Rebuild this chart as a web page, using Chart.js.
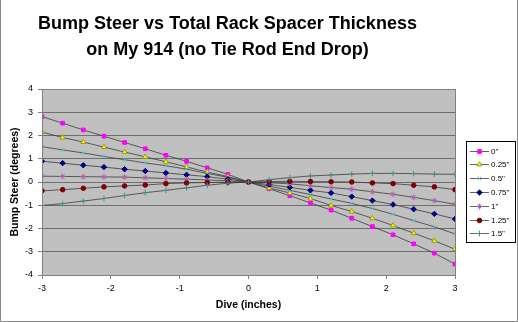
<!DOCTYPE html>
<html>
<head>
<meta charset="utf-8">
<script src="https://cdn.jsdelivr.net/npm/chart.js@4/dist/chart.umd.min.js"></script>
<style>
  html, body { margin: 0; padding: 0; background: #fff; }
  #wrap { width: 518px; height: 322px; position: relative; }
</style>
</head>
<body>
<div id="wrap"><canvas id="bump"></canvas></div>
<script>
// dive positions (inches)
const xs = [-3, -2.7, -2.4, -2.1, -1.8, -1.5, -1.2, -0.9, -0.6, -0.3, 0, 0.3, 0.6, 0.9, 1.2, 1.5, 1.8, 2.1, 2.4, 2.7, 3];

// bump steer (degrees) per total rack spacer thickness
const spacer0   = [2.81, 2.53, 2.24, 1.97, 1.70, 1.43, 1.15, 0.89, 0.61, 0.33, 0, -0.29, -0.59, -0.90, -1.21, -1.56, -1.92, -2.27, -2.66, -3.06, -3.53];
const spacer025 = [2.15, 1.91, 1.72, 1.50, 1.29, 1.08, 0.87, 0.65, 0.43, 0.23, 0, -0.26, -0.47, -0.71, -1.01, -1.27, -1.56, -1.87, -2.20, -2.53, -2.89];
const spacer05  = [1.52, 1.38, 1.25, 1.10, 0.96, 0.82, 0.70, 0.55, 0.37, 0.20, 0, -0.18, -0.36, -0.54, -0.73, -0.92, -1.14, -1.39, -1.66, -1.93, -2.23];
const spacer075 = [0.89, 0.81, 0.72, 0.64, 0.55, 0.47, 0.39, 0.31, 0.23, 0.12, 0, -0.11, -0.23, -0.36, -0.47, -0.63, -0.80, -0.97, -1.17, -1.37, -1.59];
const spacer1   = [0.25, 0.24, 0.23, 0.22, 0.21, 0.18, 0.15, 0.12, 0.09, 0.05, 0, -0.03, -0.08, -0.16, -0.24, -0.31, -0.42, -0.53, -0.66, -0.80, -0.96];
const spacer125 = [-0.38, -0.33, -0.27, -0.21, -0.17, -0.13, -0.07, -0.04, -0.02, -0.01, 0, 0.02, 0.03, 0.02, 0.01, 0.00, -0.04, -0.07, -0.14, -0.21, -0.33];
const spacer15  = [-1.01, -0.93, -0.82, -0.71, -0.58, -0.46, -0.36, -0.25, -0.14, -0.05, 0, 0.10, 0.19, 0.26, 0.30, 0.34, 0.37, 0.37, 0.36, 0.34, 0.33];

const seriesLabels = ['0"', '0.25"', '0.5"', '0.75"', '1"', '1.25"', '1.5"'];
const seriesValues = [spacer0, spacer025, spacer05, spacer075, spacer1, spacer125, spacer15];

const titleLines = ['Bump Steer vs Total Rack Spacer Thickness', 'on My 914 (no Tie Rod End Drop)'];

// Excel-like marker styles
const markers = [
  { style: 'rect',     radius: 2.6, fill: '#ff00ff', stroke: '#ff00ff' },
  { style: 'triangle', radius: 2.9, fill: '#ffff00', stroke: '#a0a000' },
  { style: 'crossRot', radius: 2.3, fill: '#40c8c8', stroke: '#40c8c8' },
  { style: 'rectRot',  radius: 2.7, fill: '#000080', stroke: '#000080' },
  { style: 'star',     radius: 2.8, fill: '#b060b0', stroke: '#b060b0' },
  { style: 'circle',   radius: 2.3, fill: '#800000', stroke: '#800000' },
  { style: 'cross',    radius: 2.8, fill: '#3f8f8f', stroke: '#3f8f8f' }
];

const FONT = "'Liberation Sans', Arial, Helvetica, sans-serif";
const LINE_COLOR = '#3c3c3c';

const datasets = seriesValues.map((vals, i) => ({
  label: seriesLabels[i],
  data: xs.map((x, j) => ({ x: x, y: vals[j] })),
  showLine: true,
  borderColor: LINE_COLOR,
  borderWidth: 0.8,
  pointStyle: markers[i].style,
  pointRadius: markers[i].radius,
  pointBackgroundColor: markers[i].fill,
  pointBorderColor: markers[i].stroke,
  pointBorderWidth: 1,
  order: 7 - i
}));

// gray plot area + border
const plotBg = {
  id: 'plotBg',
  beforeDraw(chart) {
    const { ctx, chartArea: a } = chart;
    ctx.save();
    ctx.fillStyle = '#c0c0c0';
    ctx.fillRect(a.left, a.top, a.right - a.left, a.bottom - a.top);
    ctx.restore();
  },
  afterDatasetsDraw(chart) {
    const { ctx, chartArea: a } = chart;
    ctx.save();
    ctx.strokeStyle = '#808080';
    ctx.lineWidth = 1;
    ctx.strokeRect(Math.round(a.left) + 0.5, Math.round(a.top) + 0.5, Math.round(a.right - a.left), Math.round(a.bottom - a.top));
    ctx.restore();
  }
};

// legend box on the right, like Excel
const boxLegend = {
  id: 'boxLegend',
  afterDraw(chart) {
    const ctx = chart.ctx;
    const lx = 466, ly = 141, lw = 49, lh = 101;
    ctx.save();
    ctx.fillStyle = '#fff';
    ctx.fillRect(lx, ly, lw, lh);
    ctx.strokeStyle = '#000';
    ctx.lineWidth = 1;
    ctx.strokeRect(lx + 0.5, ly + 0.5, lw, lh);
    ctx.font = '8px ' + FONT;
    ctx.textBaseline = 'middle';
    ctx.textAlign = 'left';
    seriesLabels.forEach((lab, i) => {
      const y = Math.round(ly + 9.5 + i * 13.8) + 0.5;
      ctx.strokeStyle = LINE_COLOR;
      ctx.lineWidth = 0.8;
      ctx.beginPath();
      ctx.moveTo(470, y);
      ctx.lineTo(489, y);
      ctx.stroke();
      const m = markers[i];
      ctx.fillStyle = m.fill;
      ctx.strokeStyle = m.stroke;
      ctx.lineWidth = 1;
      Chart.helpers.drawPoint(ctx, { pointStyle: m.style, radius: m.radius, borderWidth: 1 }, 479.5, y);
      ctx.fillStyle = '#000';
      ctx.fillText(lab, 491, y);
    });
    // outer chart border
    ctx.strokeStyle = '#8a8a8a';
    ctx.lineWidth = 1;
    ctx.beginPath();
    ctx.moveTo(0.5, 0);
    ctx.lineTo(0.5, 321.5);
    ctx.lineTo(517.5, 321.5);
    ctx.lineTo(517.5, 0);
    ctx.stroke();
    ctx.restore();
  }
};

new Chart(document.getElementById('bump'), {
  type: 'scatter',
  data: { datasets },
  options: {
    responsive: true,
    maintainAspectRatio: false,
    animation: false,
    layout: { padding: { left: 0, right: 63, top: 0, bottom: 0 } },
    plugins: {
      legend: { display: false },
      tooltip: { enabled: false },
      title: {
        display: true,
        text: titleLines,
        color: '#000',
        font: { family: FONT, size: 18, weight: 'bold', lineHeight: 26 / 18 },
        padding: { top: 11, bottom: 26 }
      }
    },
    scales: {
      x: {
        type: 'linear',
        min: -3,
        max: 3,
        afterFit(scale) { scale.height = 47; },
        ticks: { stepSize: 1, color: '#000', font: { family: FONT, size: 9 }, padding: 4, maxRotation: 0 },
        grid: { drawOnChartArea: false, drawTicks: true, tickLength: 4, color: '#808080' },
        border: { color: '#808080' },
        title: {
          display: true,
          text: 'Dive (inches)',
          color: '#000',
          font: { family: FONT, size: 10.5, weight: 'bold' },
          padding: { top: 0, bottom: 10.5 }
        }
      },
      y: {
        min: -4,
        max: 4,
        afterFit(scale) { scale.width = 42; },
        ticks: { stepSize: 1, color: '#000', font: { family: FONT, size: 9 }, padding: 5 },
        grid: { color: '#6e6e6e', lineWidth: 1, drawTicks: true, tickLength: 4, tickColor: '#808080' },
        border: { color: '#808080' },
        title: {
          display: true,
          text: 'Bump Steer (degrees)',
          color: '#000',
          font: { family: FONT, size: 10.5, weight: 'bold' },
          padding: { top: 8.5, bottom: 0 }
        }
      }
    }
  },
  plugins: [plotBg, boxLegend]
});
</script>
</body>
</html>
